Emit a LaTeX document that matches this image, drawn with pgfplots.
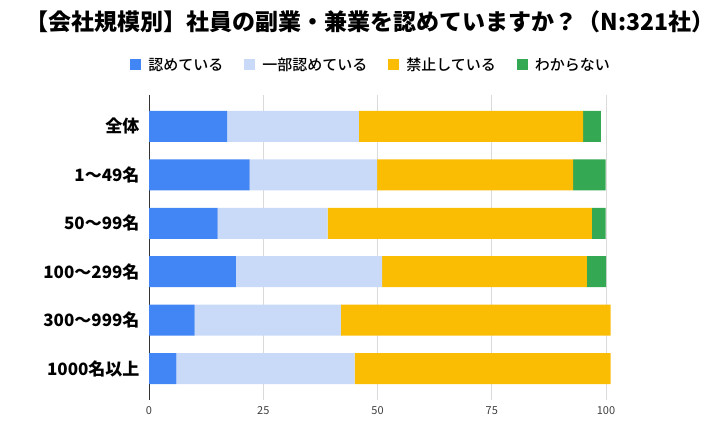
\documentclass[border=0pt]{standalone}
\usepackage{fontspec}
\setmainfont{Noto Sans CJK JP}
\newfontfamily\medfont{Noto Sans CJK JP Medium}
\usepackage{pgfplots}
\pgfplotsset{compat=1.18}
\definecolor{cBlue}{HTML}{4285F4}
\definecolor{cLight}{HTML}{C9DAF8}
\definecolor{cOrange}{HTML}{FBBC04}
\definecolor{cGreen}{HTML}{34A853}
\definecolor{cGrid}{HTML}{DADADA}
\definecolor{cBase}{HTML}{333333}
\begin{document}
\begin{tikzpicture}
\useasboundingbox (0pt,0pt) rectangle (720pt,-444pt);
\node[font=\fontsize{23}{26}\selectfont\bfseries] at (370pt,-22pt) {【会社規模別】社員の副業・兼業を認めていますか？（N:321社）};
\begin{axis}[at={(149pt,-400pt)}, anchor=south west, scale only axis,
  width=457pt, height=305pt,
  xbar stacked, bar width=0.64,
  xmin=0, xmax=100, ymin=-0.65, ymax=5.65, y dir=reverse,
  clip=false,
  xtick={0,25,50,75,100}, ytick={0,1,2,3,4,5},
  yticklabels={全体,1〜49名,50〜99名,100〜299名,300〜999名,1000名以上},
  /pgf/number format/assume math mode=true,
  xticklabel style={font=\fontsize{11}{12}\selectfont, text=black!75, yshift=-3pt},
  yticklabel style={font=\fontsize{17}{19}\selectfont\bfseries, text=black, xshift=-6pt},
  major tick length=0pt,
  xmajorgrids, major grid style={cGrid, line width=0.8pt},
  axis line style={draw=none},
  legend columns=4,
  legend style={at={(0.486,1.099)}, anchor=center, draw=none,
    font=\fontsize{15}{17}\selectfont\medfont,
    /tikz/every odd column/.append style={column sep=5pt},
    /tikz/every even column/.append style={column sep=19pt}},
  legend image code/.code={\fill[#1] (0pt,-5.5pt) rectangle (11pt,5.5pt);},
]
\addplot[fill=cBlue, draw=none] coordinates {(17.1,0) (22.0,1) (15.0,2) (19.0,3) (10.0,4) (6.0,5)};
\addplot[fill=cLight, draw=none] coordinates {(28.8,0) (27.9,1) (24.1,2) (32.0,3) (32.0,4) (39.0,5)};
\addplot[fill=cOrange, draw=none] coordinates {(49.1,0) (42.9,1) (57.8,2) (44.8,3) (59.0,4) (56.0,5)};
\addplot[fill=cGreen, draw=none] coordinates {(3.9,0) (7.1,1) (3.0,2) (4.2,3) (0,4) (0,5)};
\legend{認めている,一部認めている,禁止している,わからない}
\draw[cBase, line width=0.8pt] (axis cs:0,-0.65) -- (axis cs:0,5.65);
\end{axis}
\end{tikzpicture}
\end{document}
